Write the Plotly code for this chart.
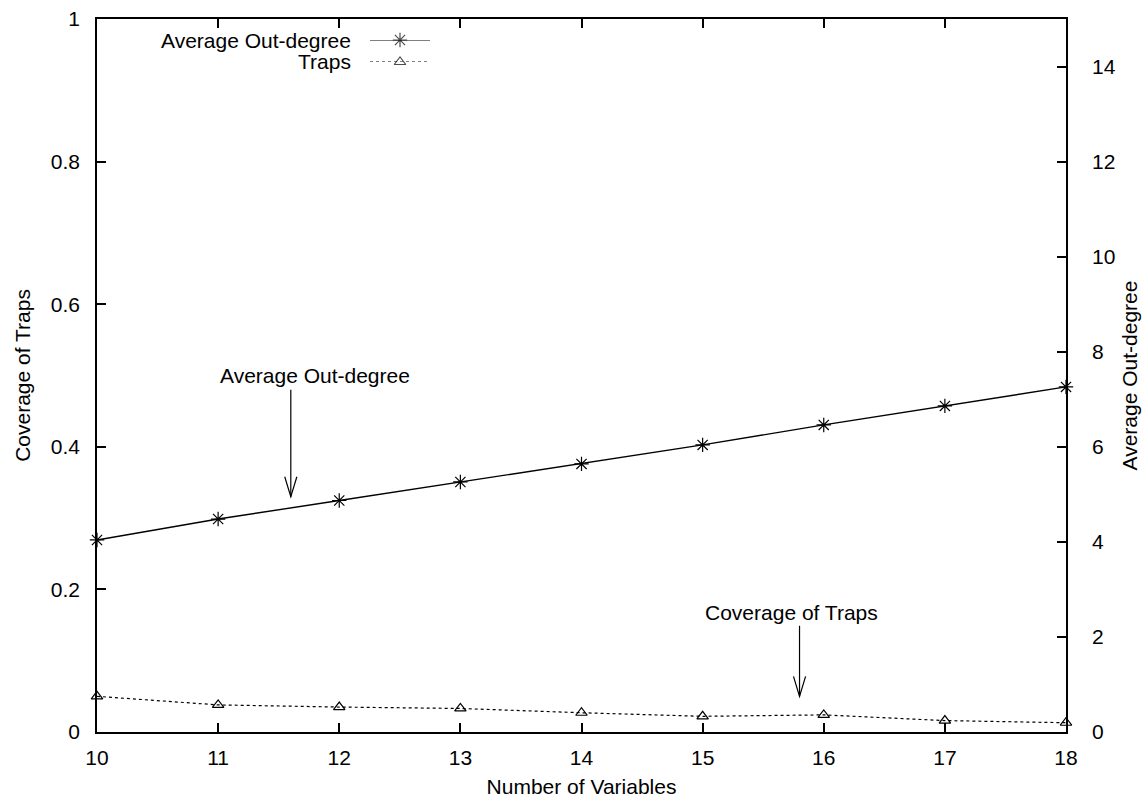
import plotly.graph_objects as go

# ---- data ----
num_vars = [10, 11, 12, 13, 14, 15, 16, 17, 18]
avg_outdegree = [4.04, 4.48, 4.87, 5.26, 5.64, 6.04, 6.46, 6.86, 7.26]
trap_coverage = [0.050, 0.038, 0.035, 0.033, 0.027, 0.022, 0.024, 0.016, 0.013]

x_ticks = [10, 11, 12, 13, 14, 15, 16, 17, 18]
y_ticks = [0, 0.2, 0.4, 0.6, 0.8, 1]
y_tick_text = ["0", "0.2", "0.4", "0.6", "0.8", "1"]
y2_ticks = [0, 2, 4, 6, 8, 10, 12, 14]

legend_names = ["Average Out-degree", "Traps"]

# annotation labels (data coords, left axis)
label_outdeg = dict(text="Average Out-degree", x=11.0, y=0.50)
arrow_outdeg = dict(x=11.6, y_from=0.48, y_to=0.33)
label_traps = dict(text="Coverage of Traps", x=15.0, y=0.168)
arrow_traps = dict(x=15.8, y_from=0.149, y_to=0.050)

FONT = "Liberation Sans, Arial, Helvetica, sans-serif"
FS = 21

fig = go.Figure()

fig.add_trace(go.Scatter(
    x=num_vars, y=avg_outdegree, yaxis="y2", mode="lines+markers",
    line=dict(color="black", width=1.4),
    marker=dict(symbol="asterisk-open", size=12, color="black",
                line=dict(color="black", width=1.2)),
    showlegend=False, cliponaxis=False))

fig.add_trace(go.Scatter(
    x=num_vars, y=trap_coverage, yaxis="y", mode="lines+markers",
    line=dict(color="black", width=1.2, dash="dot"),
    marker=dict(symbol="triangle-up-open", size=10, color="black",
                line=dict(color="black", width=1.2)),
    showlegend=False, cliponaxis=False))

# legend key samples on a hidden helper axis
fig.add_trace(go.Scatter(
    x=[0, 0.5, 1], y=[1, 1, 1], xaxis="x3", yaxis="y3", mode="lines+markers",
    line=dict(color="black", width=1.0),
    marker=dict(symbol="asterisk-open", size=[0, 12, 0], color="black",
                line=dict(color="black", width=1.2)),
    showlegend=False, cliponaxis=False, hoverinfo="skip"))
fig.add_trace(go.Scatter(
    x=[0, 0.5, 1], y=[0, 0, 0], xaxis="x3", yaxis="y3", mode="lines+markers",
    line=dict(color="black", width=1.0, dash="dot"),
    marker=dict(symbol="triangle-up-open", size=[0, 10, 0], color="black",
                line=dict(color="black", width=1.2)),
    showlegend=False, cliponaxis=False, hoverinfo="skip"))

W, H = 1144, 798
L, R, T, B = 97, 78, 19, 66
pw, ph = W - L - R, H - T - B


def px_x(p):
    return (p - L) / pw


def px_y(p):
    return (H - B - p) / ph


annotations = []
# legend texts
for name, row_y in zip(legend_names, [40, 62]):
    annotations.append(dict(text=name, xref="paper", yref="paper",
                            x=px_x(353), y=px_y(row_y), xanchor="right",
                            yanchor="middle", showarrow=False,
                            font=dict(family=FONT, size=FS, color="black")))
# plot labels
for lab in [label_outdeg, label_traps]:
    annotations.append(dict(text=lab["text"], xref="x", yref="y",
                            x=lab["x"], y=lab["y"], xanchor="left",
                            yanchor="middle", showarrow=False,
                            font=dict(family=FONT, size=FS, color="black")))

shapes = []
for arr in [arrow_outdeg, arrow_traps]:
    shapes.append(dict(type="line", xref="x", yref="y",
                       x0=arr["x"], x1=arr["x"], y0=arr["y_from"], y1=arr["y_to"],
                       line=dict(color="black", width=1.2)))
    dx, dy = 0.05, 0.028
    shapes.append(dict(type="path", xref="x", yref="y",
                       path=f"M {arr['x']-dx},{arr['y_to']+dy} L {arr['x']},{arr['y_to']} L {arr['x']+dx},{arr['y_to']+dy}",
                       line=dict(color="black", width=1.2)))

axis_common = dict(showgrid=False, zeroline=False, showline=True,
                   linecolor="black", linewidth=1.6, ticks="inside",
                   ticklen=9, tickwidth=1.5, tickcolor="black",
                   tickfont=dict(family=FONT, size=FS, color="black"))

fig.update_layout(
    width=W, height=H, margin=dict(l=L, r=R, t=T, b=B, autoexpand=False),
    plot_bgcolor="white", paper_bgcolor="white",
    font=dict(family=FONT, size=FS, color="black"),
    xaxis=dict(range=[10, 18], tickvals=x_ticks, mirror="ticks",
               ticklabelstandoff=6,
               title=dict(text="Number of Variables", standoff=14,
                          font=dict(family=FONT, size=FS)),
               **axis_common),
    yaxis=dict(range=[0, 1], tickvals=y_ticks, ticktext=y_tick_text,
               ticklabelstandoff=11,
               title=dict(text="Coverage of Traps", standoff=14,
                          font=dict(family=FONT, size=FS)),
               **axis_common),
    yaxis2=dict(range=[0, 15], tickvals=y2_ticks, overlaying="y", side="right",
                ticklabelstandoff=20,
                title=dict(text="Average Out-degree", standoff=8,
                           font=dict(family=FONT, size=FS)),
                **axis_common),
    xaxis3=dict(domain=[px_x(370), px_x(430)], range=[0, 1], anchor="y3",
                visible=False, fixedrange=True),
    yaxis3=dict(domain=[px_y(62), px_y(40)], range=[0, 1], anchor="x3",
                visible=False, fixedrange=True),
    annotations=annotations, shapes=shapes,
)

fig.write_html("out.html")
